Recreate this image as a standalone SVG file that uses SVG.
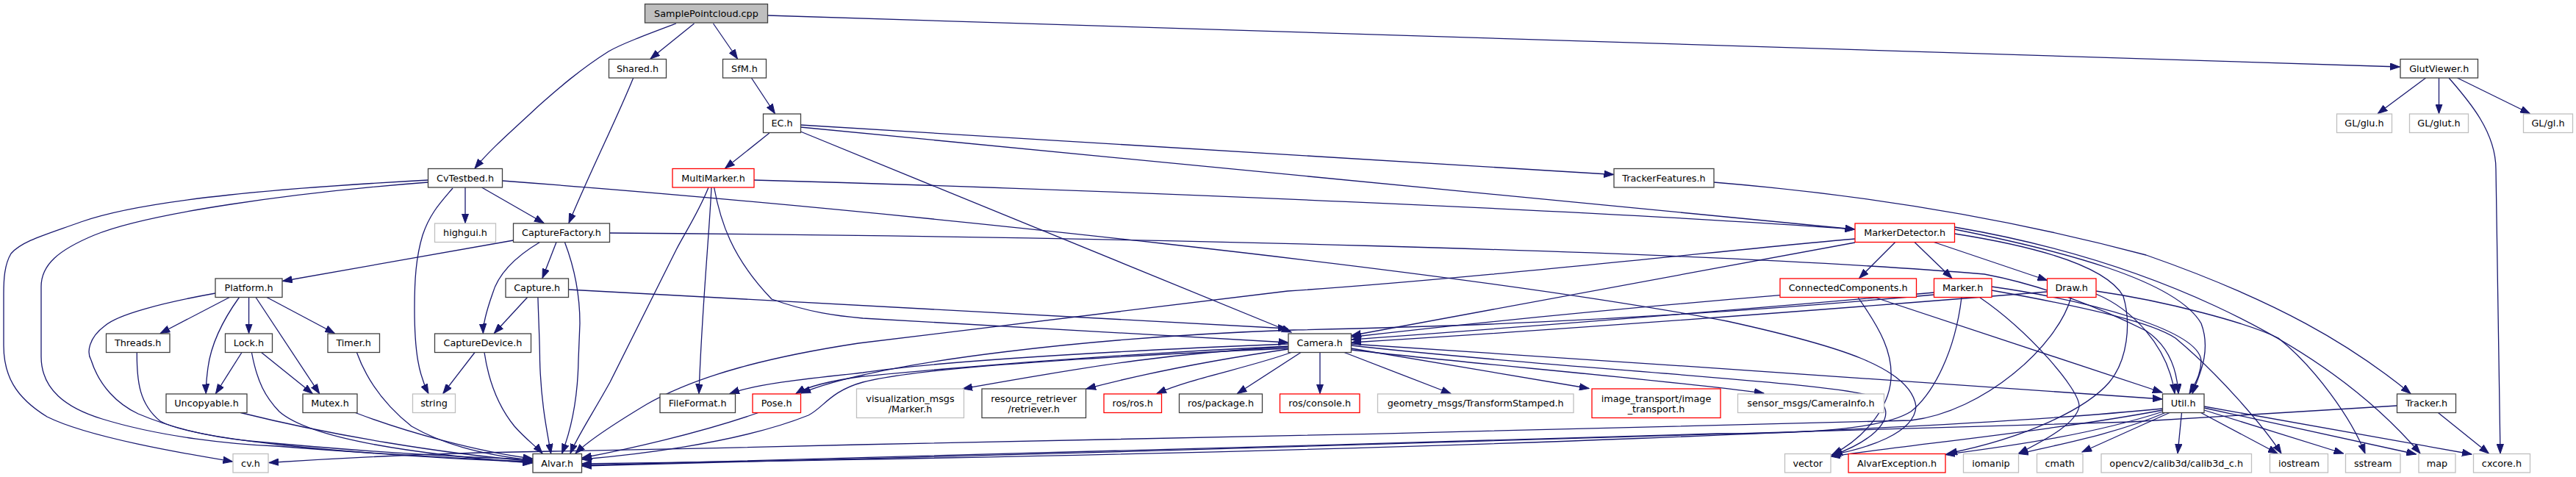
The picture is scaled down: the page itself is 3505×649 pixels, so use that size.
<svg xmlns="http://www.w3.org/2000/svg" width="3505" height="649" viewBox="0 0 3505 649">
<style>
rect{fill:#fff;stroke-width:1.3}
.b rect{stroke:#404040}
.r rect{stroke:#ff0000}
.g rect{stroke:#bfbfbf}
.root rect{fill:#bfbfbf;stroke:#404040}
text{font-family:"DejaVu Sans","Liberation Sans",sans-serif;font-size:12.8px;fill:#000;text-anchor:middle}
#edges path{fill:none;stroke:#191970;stroke-width:1.3;marker-end:url(#a)}
</style>
<defs>
<marker id="a" markerWidth="14" markerHeight="10" refX="13" refY="5" orient="auto" markerUnits="userSpaceOnUse"><path d="M0,0.3 L13,5 L0,9.7 z" fill="#191970" stroke="#191970" stroke-width="1"/></marker>
</defs>
<rect x="0" y="0" width="3505" height="649" style="fill:#fff;stroke:none"/>
<g id="edges">
<path d="M920,32 C880,47 845,60 828,70 C790,94 760,120 734,143 C700,175 668,202 646,229"/>
<path d="M944.5,32 L885,80"/>
<path d="M970.5,32 L1003.5,80"/>
<path d="M1044.6,21 L3265,91"/>
<path d="M861.7,106 C840,160 800,240 774,303.5"/>
<path d="M1022.4,106 L1054.4,154.5"/>
<path d="M3300.6,106 L3235.3,154.5"/>
<path d="M3318.5,106 L3318.5,154.5"/>
<path d="M3343.5,106 L3442.3,154.5"/>
<path d="M3332,106 C3360,138 3396,180 3396,230 L3402,617"/>
<path d="M1046.8,181 L986.6,229"/>
<path d="M1089.3,170 L2195.5,237.5"/>
<path d="M1089.3,173 L2523.5,312"/>
<path d="M1089.3,179 L1757,452"/>
<path d="M616,256 C600,275 585,290 575,320 C566,350 564,380 564,420 C564,480 570,510 583,535.5"/>
<path d="M633,255 L633,303.5"/>
<path d="M655.5,255 L740,303.5"/>
<path d="M684,246 C1200,285 2000,370 2350,437 C2500,470 2600,500 2607,553 C2605,590 2540,610 2492,619"/>
<path d="M582.5,245 C400,255 200,270 110,302 C60,320 30,328 15,345 C6,360 5,380 5,400 L5,470 C5,510 20,540 64,567 C120,595 250,617 316.5,628"/>
<path d="M582.5,248 C400,262 200,290 128,320 C80,340 56,360 56,390 L56,485 C56,530 90,555 139,570 C220,595 320,605 376,607 C500,617 650,625 724.5,628"/>
<path d="M698.5,327 L384.5,382.5"/>
<path d="M757,329.5 L738,378.5"/>
<path d="M734.5,329.5 C700,350 678,372 670,400 C663,420 657,440 657.4,453.5"/>
<path d="M768.4,329.5 C780,360 789,400 789,440 L787,490 C786,550 775,590 764.6,617"/>
<path d="M829.5,317 C1500,322 2300,340 2700,373 C2780,388 2860,420 2920,450 C2950,470 2962,500 2964,535.5"/>
<path d="M312.3,404.5 L218.2,453.5"/>
<path d="M325.5,404.5 C300,440 287,470 283,500 C281,515 280,525 280.3,535.5"/>
<path d="M338.6,404.5 L338.6,453.5"/>
<path d="M348,404.5 L434.6,535.5"/>
<path d="M363,404.5 L455.3,453.5"/>
<path d="M293,399 C220,412 160,428 143,443 C120,460 118,480 124,490 C135,525 160,550 188,563 C240,585 290,595 340,600 C500,615 620,622 724.5,625"/>
<path d="M186.3,479.5 C186,520 190,550 218,573 C260,597 450,617 724.5,629"/>
<path d="M329,479.5 L293.5,535.5"/>
<path d="M355.6,479.5 L425.2,535.5"/>
<path d="M342.4,479.5 C350,520 361,540 380,560 C420,595 550,617 724.5,630"/>
<path d="M485.4,479.5 C500,520 526,553 560,580 C600,603 650,618 724.5,626.5"/>
<path d="M327.4,561.5 C450,592 600,617 724.5,627.5"/>
<path d="M483.5,561.5 C550,587 650,615 724.5,624"/>
<path d="M646,479.5 L602.8,535.5"/>
<path d="M659,479.5 C665,520 678,553 700,580 C715,597 730,608 738,617"/>
<path d="M717.6,404.5 L672.4,453.5"/>
<path d="M731.9,404.5 C733,440 734.5,470 734.5,490 C736,550 745,590 749.6,617"/>
<path d="M773.5,394 L1752,447"/>
<path d="M964,255 C950,290 930,320 920,340 C890,400 860,460 830,520 C805,565 785,595 776,617"/>
<path d="M968,255 C965,320 955,420 951,535.5"/>
<path d="M971.6,255 C980,300 995,350 1050,407 C1100,425 1140,430 1174,433 L1752.5,466"/>
<path d="M1026,245 C1500,258 2200,288 2523.5,312"/>
<path d="M2332,248 C2600,270 2800,315 2920,347 C3100,410 3200,470 3280,535.5"/>
<path d="M2578.7,329.5 L2529.8,378.5"/>
<path d="M2605,329.5 L2655.8,378.5"/>
<path d="M2631.4,329.5 L2785.5,381.5"/>
<path d="M2524,325 C2400,335 2000,380 1752,396 C1500,425 1300,450 1168,467 C1050,485 950,510 880,550 C830,580 800,600 783,617"/>
<path d="M2524,330 L1839,456.5"/>
<path d="M2659.6,312 C2800,340 2960,380 2995,440 C3010,480 2990,515 2983,535.5"/>
<path d="M2659.6,309 C2900,350 3150,450 3293,617"/>
<path d="M2659.6,318 C2800,340 2870,370 2889,403 C2900,440 2895,490 2870,520 C2840,555 2760,595 2650,617"/>
<path d="M2422,401.7 C2200,420 2000,440 1839,458.5"/>
<path d="M2528,404.5 C2560,450 2575,480 2573,515 C2570,560 2530,600 2493,618.5"/>
<path d="M2550.5,404.5 L2942,534"/>
<path d="M2631.5,398 C2300,428 2000,450 1839,462"/>
<path d="M2631.5,401 C2200,440 1900,446 1760,449 C1500,458 1200,490 1090,535"/>
<path d="M2669,404.5 C2660,480 2630,536 2600,560 C2560,585 2450,590 2336,590 C1800,605 1000,630 792,633"/>
<path d="M2693.5,404.5 C2760,450 2830,530 2829,553 C2825,575 2790,595 2746.5,617"/>
<path d="M2710,390 C2850,410 2990,450 2995,490 C2995,510 2985,525 2979,535.5"/>
<path d="M2710,395 C2850,420 2930,440 2960,460 C3020,510 3080,580 3104,617"/>
<path d="M2785.5,397 C2500,420 2100,450 1839,466"/>
<path d="M2818,404.5 C2800,470 2700,560 2600,572 C2300,580 1500,600 1168,605 C1000,609 900,612 700,615 C550,618 450,624 366,629.5"/>
<path d="M2851.9,400 C2900,420 2950,470 2959,535.5"/>
<path d="M2851.9,396 C2950,410 3060,440 3100,460 C3150,500 3200,570 3218,617"/>
<path d="M1753,472 C1600,480 1500,495 1310,529"/>
<path d="M1753,475 C1650,490 1550,510 1478,529"/>
<path d="M1757,479.5 C1700,500 1620,515 1574,535.5"/>
<path d="M1770,479.5 L1683.5,535.5"/>
<path d="M1796,479.5 L1796,535.5"/>
<path d="M1829,479.5 L1974,535.5"/>
<path d="M1838.5,474 L2162,528.5"/>
<path d="M1838.5,476 C2000,495 2250,515 2400,535"/>
<path d="M1838.5,468 C2200,492 2600,518 2942,543"/>
<path d="M1838.5,470 C2100,500 2500,520 2550,540 C2585,560 2560,595 2494,619.5"/>
<path d="M1753,468 C1450,480 1250,495 1174,507 C1100,515 1030,522 993,535.5"/>
<path d="M1753,471 C1450,485 1250,505 1174,512 C1130,518 1100,525 1083,535.5"/>
<path d="M1753,474 C1500,485 1250,500 1174,520 C1130,532 1120,555 1100,565 C1000,605 850,620 792,625"/>
<path d="M1031.8,561.5 C950,590 850,612 792,623"/>
<path d="M2942.5,556 C2700,580 2000,615 792,631"/>
<path d="M2942.5,558 C2800,585 2600,605 2491,621"/>
<path d="M2943,560 C2850,590 2750,605 2647,618.5"/>
<path d="M2946,561.5 C2880,590 2800,605 2746.5,617.5"/>
<path d="M2952,561.5 L2833,615"/>
<path d="M2968.5,561.5 L2963,617"/>
<path d="M2994.6,561.5 L3099,617"/>
<path d="M2999,558 L3188.6,617"/>
<path d="M2999,555 L3287.5,618"/>
<path d="M2999,553 L3363,618"/>
<path d="M3317.4,561.5 L3386.4,617"/>
<path d="M3261.4,552 C3100,562 2950,572 2900,574 C2500,590 1500,615 792,634"/>
</g>
<g id="n_SamplePointcloud" class="root"><rect x="877.5" y="5.5" width="167" height="25.5"/><text x="961" y="22.8">SamplePointcloud.cpp</text></g>
<g id="n_Shared" class="b"><rect x="828.5" y="80.5" width="78" height="25.5"/><text x="867.5" y="97.8">Shared.h</text></g>
<g id="n_SfM" class="b"><rect x="983.5" y="80.5" width="59" height="25.5"/><text x="1013" y="97.8">SfM.h</text></g>
<g id="n_GlutViewer" class="b"><rect x="3266" y="80.5" width="105.5" height="25.5"/><text x="3318.7" y="97.8">GlutViewer.h</text></g>
<g id="n_EC" class="b"><rect x="1038.5" y="155" width="51" height="25.5"/><text x="1064" y="172.3">EC.h</text></g>
<g id="n_GLglu" class="g"><rect x="3179.5" y="155" width="75" height="25.5"/><text x="3217" y="172.3">GL/glu.h</text></g>
<g id="n_GLglut" class="g"><rect x="3278.5" y="155" width="80" height="25.5"/><text x="3318.5" y="172.3">GL/glut.h</text></g>
<g id="n_GLgl" class="g"><rect x="3433.5" y="155" width="67" height="25.5"/><text x="3467" y="172.3">GL/gl.h</text></g>
<g id="n_CvTestbed" class="b"><rect x="582.5" y="229.5" width="101" height="25.5"/><text x="633" y="246.8">CvTestbed.h</text></g>
<g id="n_MultiMarker" class="r"><rect x="915" y="229.5" width="111" height="25.5"/><text x="970.5" y="246.8">MultiMarker.h</text></g>
<g id="n_TrackerFeatures" class="b"><rect x="2196" y="229.5" width="136" height="25.5"/><text x="2264" y="246.8">TrackerFeatures.h</text></g>
<g id="n_highgui" class="g"><rect x="591.5" y="304" width="83" height="25.5"/><text x="633" y="321.3">highgui.h</text></g>
<g id="n_CaptureFactory" class="b"><rect x="698.5" y="304" width="131" height="25.5"/><text x="764" y="321.3">CaptureFactory.h</text></g>
<g id="n_MarkerDetector" class="r"><rect x="2524" y="304" width="135.5" height="25.5"/><text x="2591.7" y="321.3">MarkerDetector.h</text></g>
<g id="n_Platform" class="b"><rect x="293" y="379" width="91" height="25.5"/><text x="338.5" y="396.3">Platform.h</text></g>
<g id="n_Capture" class="b"><rect x="688" y="379" width="85.5" height="25.5"/><text x="730.7" y="396.3">Capture.h</text></g>
<g id="n_ConnectedComponents" class="r"><rect x="2422" y="379" width="185.5" height="25.5"/><text x="2514.7" y="396.3">ConnectedComponents.h</text></g>
<g id="n_Marker" class="r"><rect x="2631.5" y="379" width="78.5" height="25.5"/><text x="2670.7" y="396.3">Marker.h</text></g>
<g id="n_Draw" class="r"><rect x="2785.5" y="379" width="66.5" height="25.5"/><text x="2818.7" y="396.3">Draw.h</text></g>
<g id="n_Threads" class="b"><rect x="144.5" y="454" width="86.5" height="25.5"/><text x="187.7" y="471.3">Threads.h</text></g>
<g id="n_Lock" class="b"><rect x="306.5" y="454" width="64" height="25.5"/><text x="338.5" y="471.3">Lock.h</text></g>
<g id="n_Timer" class="b"><rect x="446" y="454" width="70.5" height="25.5"/><text x="481.2" y="471.3">Timer.h</text></g>
<g id="n_CaptureDevice" class="b"><rect x="591.5" y="454" width="131" height="25.5"/><text x="657" y="471.3">CaptureDevice.h</text></g>
<g id="n_Camera" class="b"><rect x="1753" y="454" width="85.5" height="25.5"/><text x="1795.7" y="471.3">Camera.h</text></g>
<g id="n_Uncopyable" class="b"><rect x="226" y="536" width="110" height="25.5"/><text x="281" y="553.3">Uncopyable.h</text></g>
<g id="n_Mutex" class="b"><rect x="412" y="536" width="74" height="25.5"/><text x="449" y="553.3">Mutex.h</text></g>
<g id="n_string" class="g"><rect x="561.5" y="536" width="58" height="25.5"/><text x="590.5" y="553.3">string</text></g>
<g id="n_FileFormat" class="b"><rect x="898" y="536" width="102.5" height="25.5"/><text x="949.2" y="553.3">FileFormat.h</text></g>
<g id="n_Pose" class="r"><rect x="1024" y="536" width="65.5" height="25.5"/><text x="1056.7" y="553.3">Pose.h</text></g>
<g id="n_visualization" class="g"><rect x="1165.5" y="529" width="146" height="39.5"/><text x="1238.5" y="546.5">visualization_msgs</text><text x="1238.5" y="561">/Marker.h</text></g>
<g id="n_resource" class="b"><rect x="1336" y="529" width="141.5" height="39.5"/><text x="1406.7" y="546.5">resource_retriever</text><text x="1406.7" y="561">/retriever.h</text></g>
<g id="n_rosros" class="r"><rect x="1502" y="536" width="78.5" height="25.5"/><text x="1541.2" y="553.3">ros/ros.h</text></g>
<g id="n_rospackage" class="b"><rect x="1604.5" y="536" width="113" height="25.5"/><text x="1661" y="553.3">ros/package.h</text></g>
<g id="n_rosconsole" class="r"><rect x="1741.5" y="536" width="108.5" height="25.5"/><text x="1795.7" y="553.3">ros/console.h</text></g>
<g id="n_geometry" class="g"><rect x="1874.5" y="536" width="266.5" height="25.5"/><text x="2007.7" y="553.3">geometry_msgs/TransformStamped.h</text></g>
<g id="n_imagetransport" class="r"><rect x="2166" y="529" width="175" height="39.5"/><text x="2253.5" y="546.5">image_transport/image</text><text x="2253.5" y="561">_transport.h</text></g>
<g id="n_sensor" class="g"><rect x="2364.5" y="536" width="199" height="25.5"/><text x="2464" y="553.3">sensor_msgs/CameraInfo.h</text></g>
<g id="n_Util" class="b"><rect x="2942.5" y="536" width="56.5" height="25.5"/><text x="2970.7" y="553.3">Util.h</text></g>
<g id="n_Tracker" class="b"><rect x="3261.5" y="536" width="80" height="25.5"/><text x="3301.5" y="553.3">Tracker.h</text></g>
<g id="n_cv" class="g"><rect x="317" y="617.5" width="48" height="25.5"/><text x="341" y="634.8">cv.h</text></g>
<g id="n_Alvar" class="b"><rect x="725" y="617.5" width="66.5" height="25.5"/><text x="758.2" y="634.8">Alvar.h</text></g>
<g id="n_vector" class="g"><rect x="2428.5" y="617.5" width="62.5" height="25.5"/><text x="2459.7" y="634.8">vector</text></g>
<g id="n_AlvarException" class="r"><rect x="2515" y="617.5" width="132" height="25.5"/><text x="2581" y="634.8">AlvarException.h</text></g>
<g id="n_iomanip" class="g"><rect x="2671.5" y="617.5" width="75" height="25.5"/><text x="2709" y="634.8">iomanip</text></g>
<g id="n_cmath" class="g"><rect x="2771.5" y="617.5" width="62.5" height="25.5"/><text x="2802.7" y="634.8">cmath</text></g>
<g id="n_calib3d" class="g"><rect x="2859" y="617.5" width="204.5" height="25.5"/><text x="2961.2" y="634.8">opencv2/calib3d/calib3d_c.h</text></g>
<g id="n_iostream" class="g"><rect x="3088.5" y="617.5" width="79" height="25.5"/><text x="3128" y="634.8">iostream</text></g>
<g id="n_sstream" class="g"><rect x="3191.5" y="617.5" width="74.5" height="25.5"/><text x="3228.7" y="634.8">sstream</text></g>
<g id="n_map" class="g"><rect x="3291" y="617.5" width="50" height="25.5"/><text x="3316" y="634.8">map</text></g>
<g id="n_cxcore" class="g"><rect x="3365.5" y="617.5" width="77" height="25.5"/><text x="3404" y="634.8">cxcore.h</text></g>
</svg>
